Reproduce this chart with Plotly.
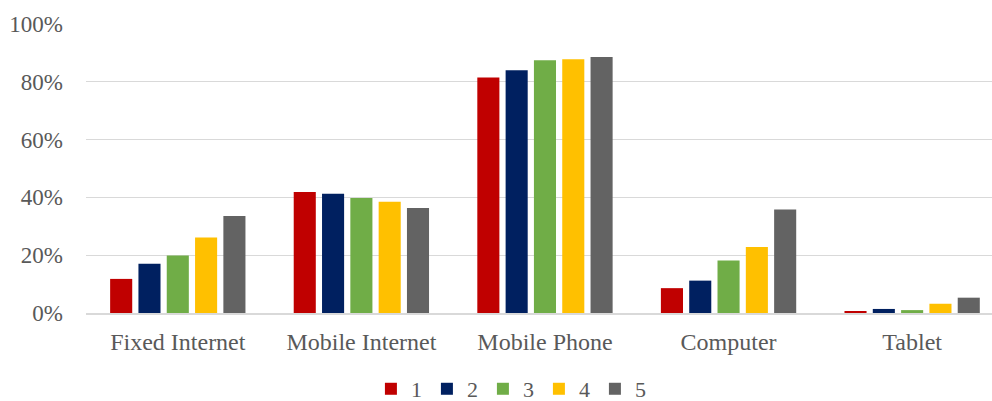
import plotly.graph_objects as go

# Share of households with each service, by group 1-5
categories = ["Fixed Internet", "Mobile Internet", "Mobile Phone", "Computer", "Tablet"]
series_names = ["1", "2", "3", "4", "5"]
values = {
    "1": [0.118, 0.419, 0.815, 0.086, 0.004],
    "2": [0.170, 0.413, 0.840, 0.112, 0.014],
    "3": [0.199, 0.398, 0.875, 0.182, 0.010],
    "4": [0.261, 0.385, 0.878, 0.228, 0.032],
    "5": [0.336, 0.363, 0.886, 0.358, 0.053],
}
colors = ["#C00000", "#002060", "#70AD47", "#FFC000", "#636363"]
y_ticks = [0, 0.2, 0.4, 0.6, 0.8, 1.0]

FONT = "Liberation Serif, Times New Roman, serif"

fig = go.Figure()
for name, color in zip(series_names, colors):
    fig.add_trace(go.Bar(
        x=categories,
        y=values[name],
        name=name,
        marker=dict(color=color, line=dict(width=0)),
    ))

fig.update_layout(
    width=992,
    height=401,
    barmode="group",
    bargap=0.229,
    bargroupgap=0.22,
    plot_bgcolor="white",
    paper_bgcolor="white",
    margin=dict(l=86, r=0, t=24, b=88, autoexpand=False),
    font=dict(family=FONT, size=23, color="#595959"),
    showlegend=True,
    legend=dict(
        orientation="h",
        x=0.469,
        xanchor="center",
        yref="container",
        y=0.03,
        yanchor="middle",
        font=dict(family=FONT, size=22, color="#595959"),
        itemwidth=30,
        traceorder="normal",
        tracegroupgap=0,
    ),
    xaxis=dict(
        range=[-0.5, 4.435],
        showgrid=False,
        showline=True,
        linecolor="#d9d9d9",
        linewidth=2,
        ticks="",
        ticklabelstandoff=6,
        tickfont=dict(family=FONT, size=24, color="#595959"),
    ),
    yaxis=dict(
        range=[0, 1.0],
        tickvals=y_ticks,
        tickformat=".0%",
        showgrid=True,
        gridcolor="#d9d9d9",
        gridwidth=1,
        zeroline=False,
        showline=False,
        ticks="",
        ticklabelstandoff=22,
        tickfont=dict(family=FONT, size=23, color="#595959"),
    ),
)

fig.write_html("out.html")
